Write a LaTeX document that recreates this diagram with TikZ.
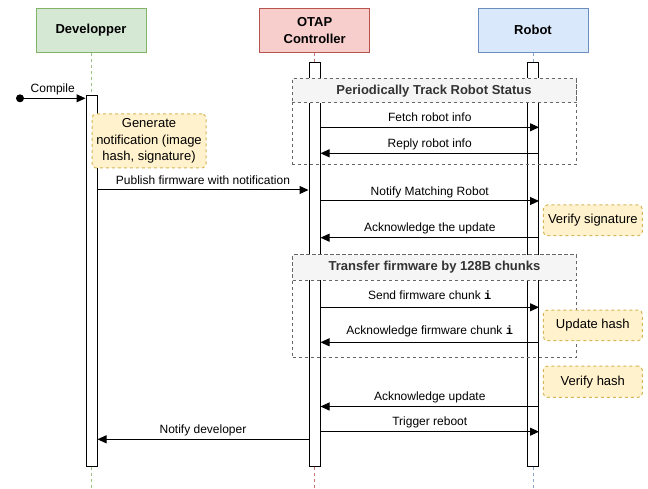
\documentclass[tikz,border=0pt]{standalone}
\usepackage{fontspec}
\setmainfont{Liberation Sans}
\setmonofont{Liberation Mono}
\usetikzlibrary{arrows.meta}
\definecolor{devfill}{HTML}{D5E8D4}
\definecolor{devline}{HTML}{82B366}
\definecolor{otapfill}{HTML}{F8CECC}
\definecolor{otapline}{HTML}{B85450}
\definecolor{robfill}{HTML}{DAE8FC}
\definecolor{robline}{HTML}{6C8EBF}
\definecolor{notefill}{HTML}{FFF2CC}
\definecolor{noteline}{HTML}{D6B656}
\definecolor{framehead}{HTML}{F5F5F5}
\definecolor{frameline}{HTML}{666666}
\definecolor{frametext}{HTML}{333333}
\begin{document}
\begin{tikzpicture}[x=1pt,y=-1pt,
  actor/.style={draw, line width=1pt, minimum width=110pt, minimum height=44pt, inner sep=0pt, align=center, font=\bfseries\fontsize{13}{16.5}\selectfont},
  bar/.style={draw=black, fill=white, line width=1pt, minimum width=11pt, inner sep=0pt},
  lifeline/.style={line width=1pt, dash pattern=on 3pt off 3pt},
  msg/.style={draw=black, line width=1pt, -{Triangle[length=9pt,width=8pt]}},
  lbl/.style={font=\fontsize{12}{14}\selectfont, text height=9pt, text depth=2.5pt, inner sep=0pt, midway, yshift=9pt},
  lblhi/.style={lbl, yshift=2.5pt},
  notebox/.style={draw=noteline, fill=notefill, line width=1pt, dash pattern=on 3pt off 3pt, rounded corners=4pt, inner sep=0pt, align=center, font=\fontsize{13}{16.5}\selectfont},
  framebody/.style={draw=frameline, line width=1pt, dash pattern=on 3pt off 3pt, inner sep=0pt},
  framehd/.style={draw=frameline, fill=framehead, line width=1pt, dash pattern=on 3pt off 3pt, inner sep=0pt, text=frametext, font=\bfseries\fontsize{13}{16}\selectfont}
]
\useasboundingbox (0,0) rectangle (648,489);

% actors
\node[actor, fill=devfill, draw=devline] (dev) at (91,30.3) {Developper};
\node[actor, fill=otapfill, draw=otapline] (otap) at (314.7,30.3) {OTAP\\Controller};
\node[actor, fill=robfill, draw=robline] (rob) at (533,30.3) {Robot};

% lifelines
\draw[lifeline, draw=devline!80] (dev.south) -- (dev.south |- 0,488);
\draw[lifeline, draw=otapline!80] (otap.south) -- (otap.south |- 0,488);
\draw[lifeline, draw=robline!80] (rob.south) -- (rob.south |- 0,488);

% activation bars
\node[bar, minimum height=370pt] (devbar) at (91.5,281) {};
\node[bar, minimum height=403pt] (otapbar) at (314.5,264.5) {};
\node[bar, minimum height=403pt] (robbar) at (533,264.5) {};

% frames
\node[framebody, minimum width=284pt, minimum height=86.5pt] (loopa) at (434,121.75) {};
\node[framehd, minimum width=284pt, minimum height=24.5pt] (loopahd) at (434,90.75) {Periodically Track Robot Status};
\node[framebody, minimum width=284pt, minimum height=102.3pt] (loopb) at (434.5,306.15) {};
\node[framehd, minimum width=284pt, minimum height=25pt] (loopbhd) at (434.5,267.5) {Transfer firmware by 128B chunks};

% start
\node[circle, fill=black, minimum size=8pt, inner sep=0pt] (start) at (20,98.3) {};
\draw[msg] (start.center) -- (devbar.west |- start) node[lbl] {Compile};

% messages
\draw[msg] (otapbar.east |- 0,127.3) -- (robbar.east |- 0,127.3) node[lbl] {Fetch robot info};
\draw[msg] (robbar.east |- 0,153.3) -- (otapbar.east |- 0,153.3) node[lbl] {Reply robot info};
\draw[msg] (devbar.east |- 0,190) -- (otapbar.west |- 0,190) node[lbl] {Publish firmware with notification};
\draw[msg] (otapbar.east |- 0,201) -- (robbar.east |- 0,201) node[lbl] {Notify Matching Robot};
\draw[msg] (robbar.east |- 0,237.7) -- (otapbar.east |- 0,237.7) node[lbl] {Acknowledge the update};
\draw[msg] (otapbar.east |- 0,307.3) -- (robbar.east |- 0,307.3) node[lblhi] {Send firmware chunk \texttt{\bfseries i}};
\draw[msg] (robbar.east |- 0,342.3) -- (otapbar.east |- 0,342.3) node[lblhi] {Acknowledge firmware chunk \texttt{\bfseries i}};
\draw[msg] (robbar.east |- 0,406.5) -- (otapbar.east |- 0,406.5) node[lbl] {Acknowledge update};
\draw[msg] (otapbar.east |- 0,431.7) -- (robbar.east |- 0,431.7) node[lbl] {Trigger reboot};
\draw[msg] (otapbar.west |- 0,439.3) -- (devbar.east |- 0,439.3) node[lbl] {Notify developer};

% notes
\node[notebox, minimum width=114pt, minimum height=54pt] (gen) at (149,141) {Generate\\notification (image\\hash, signature)};
\node[notebox, minimum width=99pt, minimum height=30.7pt] (vsig) at (592.8,220.35) {Verify signature};
\node[notebox, minimum width=99pt, minimum height=30.7pt] (uhash) at (592.8,325.35) {Update hash};
\node[notebox, minimum width=99pt, minimum height=31.3pt] (vhash) at (592.8,381.65) {Verify hash};
\end{tikzpicture}
\end{document}
